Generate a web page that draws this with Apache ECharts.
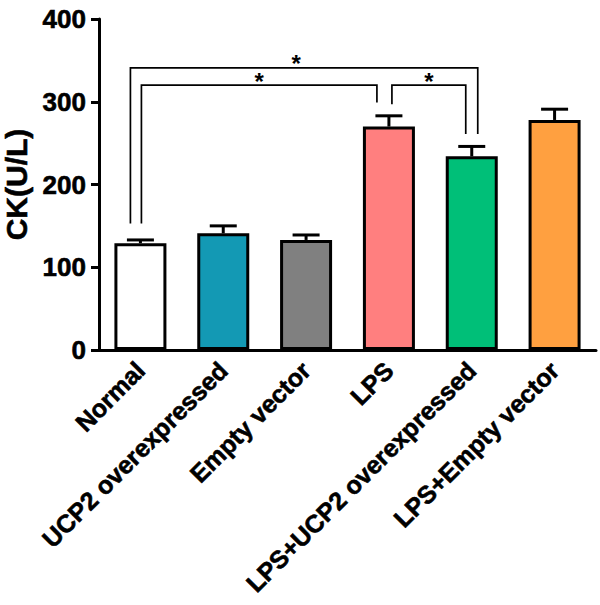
<!DOCTYPE html>
<html>
<head>
<meta charset="utf-8">
<script src="https://cdn.jsdelivr.net/npm/echarts@6/dist/echarts.min.js"></script>
<style>
  html, body { margin: 0; padding: 0; background: #fff; }
  #chart { width: 600px; height: 605px; }
</style>
</head>
<body>
<div id="chart"></div>
<script>
// values
const categories = ['Normal', 'UCP2 overexpressed', 'Empty vector', 'LPS', 'LPS+UCP2 overexpressed', 'LPS+Empty vector']
const means = [129, 141, 133, 270, 234, 278]
const errors = [4, 9, 6, 13, 12, 13]
const barColors = ['#ffffff', '#1399b4', '#808080', '#ff7f7f', '#00bf78', '#ffa040']
const yTicks = [0, 100, 200, 300, 400]

// significance brackets: [from, to, top, left leg end, right leg end, label]
const brackets = [
  [0, 4, 341, 153, 261, '*'],
  [0, 3, 320, 153, 299, '*'],
  [3, 4, 320, 297, 261, '*']
]
// pixel nudges of the legs off the bar centres (style only)
const legNudge = [[-10, 6], [1, -12], [3, -6]]

const font = 'Arial, "Liberation Sans", sans-serif'
const heavy = {color: '#000', fontWeight: 'bold', fontFamily: font, textBorderColor: '#000', textBorderWidth: 0.6}
const chart = echarts.init(document.getElementById('chart'), null, {renderer: 'svg'})

chart.setOption({
  animation: false,
  grid: {left: 99, right: 4, top: 19, bottom: 255, containLabel: false, outerBoundsMode: 'none'},
  xAxis: {
    type: 'category',
    data: categories,
    axisLine: {lineStyle: {color: '#000', width: 3}},
    axisTick: {alignWithLabel: true, length: 7, lineStyle: {color: '#000', width: 3}},
    axisLabel: Object.assign({rotate: 45, margin: 16, fontSize: 25, interval: 0}, heavy)
  },
  yAxis: {
    type: 'value',
    min: yTicks[0],
    max: yTicks[yTicks.length - 1],
    interval: 100,
    name: 'CK(U/L)',
    nameLocation: 'middle',
    nameGap: 64,
    nameRotate: 90,
    nameTextStyle: Object.assign({fontSize: 30}, heavy),
    splitLine: {show: false},
    axisLine: {show: true, lineStyle: {color: '#000', width: 3}},
    axisTick: {show: true, length: 8, lineStyle: {color: '#000', width: 3}},
    axisLabel: Object.assign({margin: 13, fontSize: 26}, heavy)
  },
  series: [
    {
      type: 'bar',
      barWidth: 52,
      data: means.map((v, i) => ({
        value: v,
        itemStyle: {color: barColors[i], borderColor: '#000', borderWidth: 3}
      })),
      z: 2
    },
    {
      type: 'custom',
      z: 3,
      data: means.map((v, i) => [i, v, errors[i]]),
      encode: {x: 0, y: 1},
      renderItem: (params, api) => {
        const i = api.value(0)
        const base = api.coord([i, api.value(1)])
        const top = api.coord([i, api.value(1) + api.value(2)])
        const style = {stroke: '#000', lineWidth: 3}
        return {
          type: 'group',
          children: [
            {type: 'line', shape: {x1: base[0], y1: base[1], x2: top[0], y2: top[1]}, style},
            {type: 'line', shape: {x1: top[0] - 13.5, y1: top[1], x2: top[0] + 13.5, y2: top[1]}, style}
          ]
        }
      }
    },
    {
      type: 'custom',
      z: 4,
      clip: false,
      data: brackets.map(b => b.slice(0, 5)),
      encode: {x: 0, y: 2},
      renderItem: (params, api) => {
        const b = brackets[params.dataIndex]
        const n = legNudge[params.dataIndex]
        const l = api.coord([b[0], b[2]])
        const r = api.coord([b[1], b[2]])
        const lb = api.coord([b[0], b[3]])
        const rb = api.coord([b[1], b[4]])
        const x1 = l[0] + n[0], x2 = r[0] + n[1]
        const style = {stroke: '#000', lineWidth: 1.7, fill: null}
        return {
          type: 'group',
          children: [
            {type: 'polyline', shape: {points: [[x1, lb[1]], [x1, l[1]], [x2, l[1]], [x2, rb[1]]]}, style},
            {type: 'text', style: {
              text: b[5], x: (x1 + x2) / 2 - (params.dataIndex === 0 ? 8 : 0), y: l[1] + 8,
              align: 'center', verticalAlign: 'bottom',
              fontSize: 24, fontWeight: 'bold', fontFamily: font, fill: '#000'
            }}
          ]
        }
      }
    }
  ]
})
</script>
</body>
</html>
